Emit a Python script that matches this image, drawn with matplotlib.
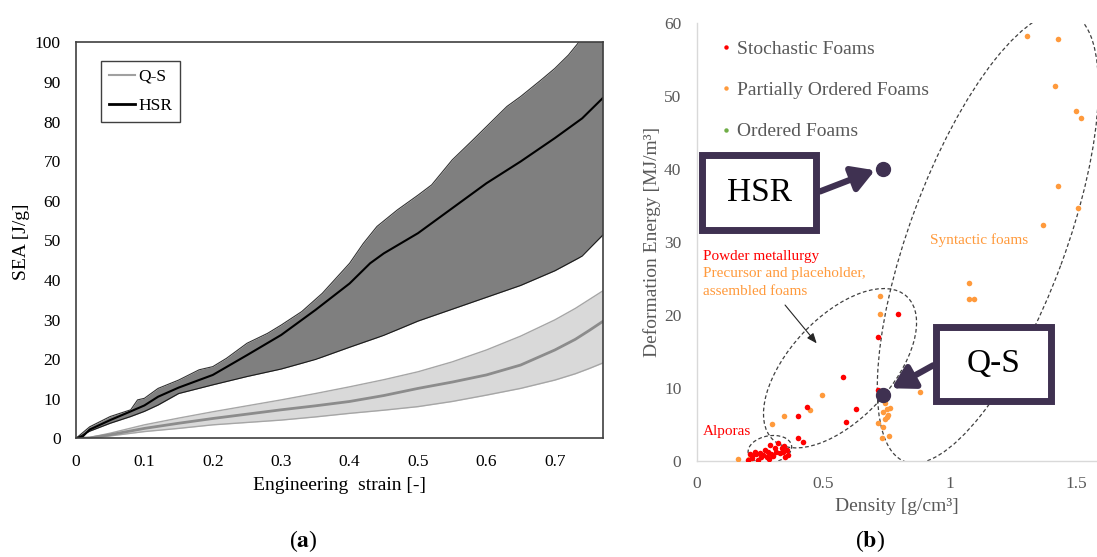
import numpy as np
import matplotlib
matplotlib.use('Agg')
import matplotlib.pyplot as plt
from matplotlib.patches import Ellipse, Rectangle
from matplotlib.lines import Line2D
from matplotlib.transforms import ScaledTranslation

plt.rcParams['font.family'] = ['Liberation Serif', 'DejaVu Serif']
plt.rcParams['mathtext.fontset'] = 'stix'

##################################################################
# (a) SEA vs engineering strain
hsr_up_x = [0, 0.02, 0.05, 0.08, 0.09, 0.1, 0.12, 0.15, 0.18, 0.2, 0.22, 0.25, 0.28, 0.3,
            0.33, 0.36, 0.4, 0.42, 0.44, 0.47, 0.5, 0.52, 0.55, 0.58, 0.6, 0.63, 0.65,
            0.68, 0.7, 0.72, 0.735, 0.77]
hsr_up_y = [0, 2.9, 5.5, 7.2, 9.7, 10.1, 12.6, 14.7, 17.3, 18.1, 20.2, 24.0, 26.5, 28.6,
            32.0, 36.6, 44.2, 49.2, 53.5, 57.7, 61.4, 64.0, 70.3, 75.3, 78.7, 83.8, 86.3,
            90.5, 93.4, 96.8, 100.0, 104.0]
hsr_mean_x = [0, 0.01, 0.02, 0.03, 0.05, 0.08, 0.1, 0.12, 0.15, 0.2, 0.25, 0.3, 0.35, 0.4,
              0.43, 0.45, 0.5, 0.55, 0.6, 0.65, 0.7, 0.74, 0.77]
hsr_mean_y = [0, 0.5, 2.2, 3.0, 4.6, 6.8, 8.3, 10.5, 12.8, 16.0, 21.0, 26.1, 32.4, 39.1,
              44.2, 46.7, 51.8, 58.1, 64.4, 69.9, 75.8, 80.8, 85.9]
hsr_lo_x = [0, 0.02, 0.05, 0.08, 0.1, 0.12, 0.15, 0.2, 0.25, 0.3, 0.35, 0.4, 0.45, 0.5,
            0.55, 0.6, 0.65, 0.7, 0.74, 0.77]
hsr_lo_y = [0, 1.8, 3.8, 5.5, 6.8, 8.4, 11.3, 13.5, 15.6, 17.5, 19.9, 23.0, 26.0, 29.6,
            32.6, 35.6, 38.6, 42.3, 46.0, 51.3]

qs_x = [0, 0.02, 0.05, 0.1, 0.15, 0.2, 0.25, 0.3, 0.35, 0.4, 0.45, 0.5, 0.55, 0.6, 0.65,
        0.7, 0.73, 0.75, 0.77]
qs_mean = [0, 0.1, 0.9, 2.5, 3.8, 5.0, 6.1, 7.2, 8.2, 9.3, 10.8, 12.6, 14.2, 16.0, 18.5,
           22.3, 25.0, 27.2, 29.5]
qs_up = [0, 0.2, 1.3, 3.4, 5.1, 6.7, 8.2, 9.7, 11.3, 13.0, 14.8, 16.8, 19.3, 22.3, 25.8,
         29.9, 32.8, 35.0, 37.2]
qs_lo = [0, 0.05, 0.6, 1.7, 2.5, 3.4, 4.0, 4.6, 5.4, 6.3, 7.1, 8.0, 9.3, 10.9, 12.6,
         14.7, 16.3, 17.6, 19.0]

##################################################################
# (b) deformation energy vs density
stoch_x = [0.796, 0.717, 0.577, 0.823, 0.437, 0.629, 0.399, 0.588, 0.399, 0.419, 0.717,
           0.211, 0.230, 0.250, 0.270, 0.289, 0.309, 0.322, 0.336, 0.355, 0.362, 0.217,
           0.243, 0.276, 0.303, 0.329, 0.349, 0.263, 0.204, 0.22, 0.235, 0.255, 0.28,
           0.295, 0.315, 0.34, 0.345, 0.285]
stoch_y = [20.1, 17.0, 11.5, 11.5, 7.4, 7.1, 6.1, 5.4, 3.2, 2.6, 9.7,
           0.96, 1.27, 1.14, 1.51, 2.19, 1.74, 2.42, 1.74, 1.51, 0.82, 0.37,
           0.14, 0.51, 0.68, 1.05, 0.59, 0.82, 0.14, 0.7, 0.9, 0.6, 1.2,
           1.0, 1.3, 1.2, 2.1, 0.3]
partial_x = [1.303, 1.426, 1.415, 1.497, 1.517, 1.426, 1.505, 1.367, 1.077, 1.077, 1.097,
             0.724, 0.724, 0.494, 0.447, 0.346, 0.299, 0.882, 0.744, 0.763, 0.737, 0.757,
             0.744, 0.717, 0.737, 0.761, 0.731, 0.162, 0.208, 0.75, 0.752]
partial_y = [58.2, 57.8, 51.4, 47.9, 46.9, 37.7, 34.7, 32.3, 24.3, 22.2, 22.2,
             22.6, 20.1, 9.0, 7.0, 6.1, 5.1, 9.5, 8.0, 7.2, 6.7, 6.3,
             5.8, 5.2, 4.7, 3.4, 3.1, 0.3, 0.3, 7.1, 6.0]
this_x = [0.735, 0.735]
this_y = [40, 9]
this_labels = ['HSR', 'Q-S']

purple = '#3f3151'
red = '#ff0000'
orange = '#ff9a3c'
green = '#70ad47'
grey_txt = '#595959'

fig = plt.figure(figsize=(10.97, 5.57), dpi=100)
W, H = 1097.0, 557.0

##################################################################
ax = fig.add_axes([76 / W, 1 - 438.3 / H, (602.7 - 76) / W, (438.3 - 42.3) / H])
ax.fill_between(hsr_up_x, hsr_up_y, np.interp(hsr_up_x, hsr_lo_x, hsr_lo_y),
                color='#7f7f7f', lw=0)
ax.plot(hsr_up_x, hsr_up_y, color='#333333', lw=0.8)
ax.plot(hsr_lo_x, hsr_lo_y, color='#1a1a1a', lw=0.8)
ax.fill_between(qs_x, qs_up, qs_lo, color='#d9d9d9', lw=0)
ax.plot(qs_x, qs_up, color='#a6a6a6', lw=1)
ax.plot(qs_x, qs_lo, color='#a6a6a6', lw=1)
ax.plot(qs_x, qs_mean, color='#8c8c8c', lw=2)
ax.plot(hsr_mean_x, hsr_mean_y, color='black', lw=1.5)

ax.set_xlim(0, 0.77)
ax.set_ylim(0, 100)
ax.set_xticks(np.arange(0, 0.71, 0.1))
ax.set_xticklabels(['0', '0.1', '0.2', '0.3', '0.4', '0.5', '0.6', '0.7'])
ax.set_yticks(np.arange(0, 101, 10))
ax.tick_params(length=0, labelsize=12.5, pad=11)
for s in ax.spines.values():
    s.set_color('#404040')
    s.set_linewidth(1.2)

handles = [Line2D([], [], color='#a0a0a0', lw=1.5), Line2D([], [], color='black', lw=2)]
leg = ax.legend(handles, ['Q-S', 'HSR'], loc='upper left', bbox_to_anchor=(0.0475, 0.953),
                borderaxespad=0, fontsize=12.5, handlelength=1.5, handletextpad=0.2,
                labelspacing=0.75, borderpad=0.45, fancybox=False, framealpha=1)
leg.get_frame().set_edgecolor('#404040')
leg.get_frame().set_linewidth(1)

fig.text(339.4 / W, 1 - 485 / H, 'Engineering  strain [-]', ha='center', va='center', fontsize=14)
fig.text(21.8 / W, 1 - 241.7 / H, 'SEA [J/g]', ha='center', va='center', rotation=90, fontsize=14)

##################################################################
bx = fig.add_axes([696.7 / W, 1 - 461 / H, (W - 696.7) / W, (461 - 22.7) / H])
bx.set_xlim(0, 400.3 / 253.2)
bx.set_ylim(0, 60)
for k in ['top', 'right']:
    bx.spines[k].set_visible(False)
for k in ['left', 'bottom']:
    bx.spines[k].set_color('#d9d9d9')
    bx.spines[k].set_linewidth(1)
bx.set_xticks([0, 0.5, 1, 1.5])
bx.set_xticklabels(['0', '0.5', '1', '1.5'])
bx.set_yticks(np.arange(0, 61, 10))
bx.tick_params(length=0, labelsize=12.5, pad=11, labelcolor=grey_txt)

bx.scatter(partial_x, partial_y, s=16, color=orange, lw=0, zorder=3)
bx.scatter(stoch_x, stoch_y, s=16, color=red, lw=0, zorder=3)

# dashed ellipses: centre in data, axes in pixels
dash = dict(fill=False, ec='#404040', lw=0.9, ls=(0, (3, 2)), zorder=2)
for cx, cy, a, b, ang in [(1.150, 30.6, 239, 78, 69.7), (0.566, 12.7, 98, 51, 47),
                          (0.289, 1.6, 22, 13.5, 10)]:
    e = Ellipse((0, 0), 2 * a, 2 * b, angle=ang,
                transform=ScaledTranslation(cx, cy, bx.transData), **dash)
    bx.add_patch(e)

bx.annotate('', xy=(0.474, 16.1), xytext=(0.349, 21.35),
            arrowprops=dict(arrowstyle='-|>,head_length=0.5,head_width=0.2', color='#262626',
                            lw=0.8, shrinkA=0, shrinkB=0, mutation_scale=12))

bx.text(0.026, 27.97, 'Powder metallurgy', color=red, fontsize=11, va='center')
bx.text(0.026, 25.6, 'Precursor and placeholder,', color=orange, fontsize=11, va='center')
bx.text(0.026, 23.2, 'assembled foams', color=orange, fontsize=11, va='center')
bx.text(0.921, 30.2, 'Syntactic foams', color=orange, fontsize=11, va='center')
bx.text(0.026, 4.0, 'Alporas', color=red, fontsize=11, va='center')

lh = [Line2D([], [], ls='', marker='o', ms=3.2, mew=0, color=c) for c in [red, orange, green]]
bx.legend(lh, ['Stochastic Foams', 'Partially Ordered Foams', 'Ordered Foams'],
          loc='upper left', bbox_to_anchor=(0.0425, 0.978), frameon=False, fontsize=14,
          handlelength=0.5, handletextpad=0.3, labelspacing=1.22, labelcolor=grey_txt,
          borderaxespad=0)

# highlighted points, boxes and arrows
bx.plot(this_x, this_y, ls='', marker='o', ms=10, color=purple, zorder=6)
boxes = [(0.02, 31.6, 0.473, 41.9), (0.946, 8.15, 1.401, 18.4)]
starts = [(0.487, 36.9), (0.934, 13.1)]
tips = [(0.704, 39.8), (0.770, 9.95)]
for lab, (x0, y0, x1, y1), st, tp in zip(this_labels, boxes, starts, tips):
    bx.add_patch(Rectangle((x0, y0), x1 - x0, y1 - y0, fc='white', ec=purple, lw=5,
                           zorder=7, clip_on=False))
    bx.text((x0 + x1) / 2, (y0 + y1) / 2, lab, fontsize=24, ha='center', va='center',
            zorder=8)
    bx.annotate('', xy=tp, xytext=st, zorder=6,
                arrowprops=dict(arrowstyle='-|>,head_length=0.6,head_width=0.35',
                                color=purple, lw=4.5, shrinkA=0, shrinkB=0,
                                mutation_scale=22))

fig.text(897 / W, 1 - 506.7 / H, 'Density [g/cm³]', ha='center', va='center', fontsize=14,
         color=grey_txt)
fig.text(651.7 / W, 1 - 241.7 / H, 'Deformation Energy [MJ/m³]', ha='center', va='center',
         rotation=90, fontsize=14, color=grey_txt)

##################################################################
fig.text(303 / W, 1 - 541.5 / H, r'($\mathbf{a}$)', ha='center', va='center', fontsize=17)
fig.text(870 / W, 1 - 541.5 / H, r'($\mathbf{b}$)', ha='center', va='center', fontsize=17)

plt.savefig('out.png', dpi=100)
